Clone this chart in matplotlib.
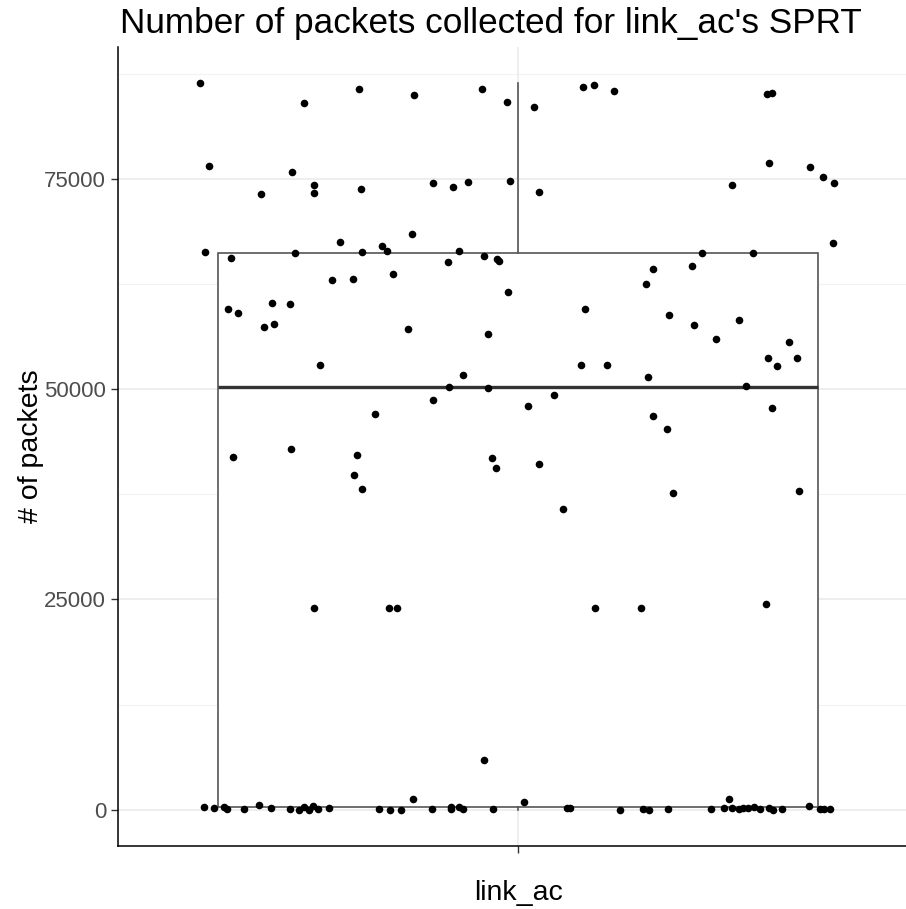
import matplotlib
matplotlib.use("Agg")
import matplotlib.pyplot as plt
import numpy as np

# number of packets collected per SPRT run (one category: link_ac)
packets = [
    86370, 84000, 76550, 75870, 73180, 66320, 65650, 66240, 59590, 59070,
    60230, 60140, 57370, 57730, 42850, 85730, 84990, 74290, 73300, 73780,
    67510, 66360, 67070, 66480, 68430, 63000, 63150, 63710, 57130, 52890,
    47030, 85660, 84110, 74520, 74090, 74650, 74720, 66480, 65170, 65810,
    65500, 65300, 61530, 56540, 51670, 50300, 50190, 48730, 83560, 85970,
    86130, 85460, 73420, 59590, 52850, 52850, 47980, 49330, 74290, 64300,
    62560, 64660, 66200, 58840, 57680, 58280, 55980, 51470, 46790, 45250,
    85120, 85200, 76860, 76470, 75280, 74560, 67360, 66200, 55660, 53760,
    52810, 53690, 50320, 47780,
    41880, 42230, 39820, 38150, 41840, 40610, 41090, 35700, 37640, 37880,
    23970, 23970, 23970, 23970, 23930, 24400, 5860,
    270, 200, 275, 30, 30, 560, 200, 120, 0, 275,
    0, 390, 120, 200, 120, 0, 0, 1310, 120, 275,
    30, 350, 30, 120, 950, 200, 150, 0, 120, 0,
    120, 120, 200, 1270, 200, 120, 200, 200, 275, 80,
    200, 0, 80, 480, 120, 120, 120,
]

# horizontal jitter of each point (category units)
jitter = [
    -0.477, -0.321, -0.463, -0.339, -0.386, -0.469, -0.431, -0.335, -0.435, -0.420,
    -0.369, -0.342, -0.381, -0.366, -0.341, -0.239, -0.156, -0.306, -0.306, -0.236,
    -0.267, -0.234, -0.204, -0.197, -0.159, -0.279, -0.248, -0.188, -0.165, -0.297,
    -0.215, -0.054, -0.016, -0.127, -0.098, -0.075, -0.012, -0.089, -0.105, -0.051,
    -0.032, -0.029, -0.015, -0.045, -0.083, -0.103, -0.045, -0.127, 0.024, 0.098,
    0.114, 0.144, 0.032, 0.100, 0.095, 0.134, 0.015, 0.054, 0.321, 0.203,
    0.192, 0.261, 0.276, 0.226, 0.264, 0.332, 0.297, 0.195, 0.203, 0.223,
    0.374, 0.381, 0.376, 0.438, 0.458, 0.474, 0.473, 0.352, 0.407, 0.375,
    0.389, 0.419, 0.342, 0.381,
    -0.428, -0.242, -0.246, -0.234, -0.039, -0.033, 0.032, 0.068, 0.233, 0.422,
    -0.306, -0.194, -0.181, 0.115, 0.185, 0.372, -0.051,
    -0.471, -0.456, -0.441, -0.437, -0.411, -0.389, -0.370, -0.342, -0.329, -0.321,
    -0.314, -0.308, -0.300, -0.284, -0.209, -0.192, -0.175, -0.158, -0.129, -0.100,
    -0.100, -0.088, -0.083, -0.037, 0.009, 0.074, 0.078, 0.153, 0.188, 0.197,
    0.225, 0.290, 0.309, 0.317, 0.321, 0.332, 0.338, 0.345, 0.354, 0.363,
    0.377, 0.382, 0.396, 0.437, 0.453, 0.459, 0.468,
]

category = "link_ac"
y_ticks = [0, 25000, 50000, 75000]
y_minor = [12500, 37500, 62500, 87500]

plt.rcParams["font.family"] = ["Liberation Sans", "DejaVu Sans"]

fig = plt.figure(figsize=(9.06, 9.09), dpi=100)
ax = fig.add_axes([118 / 906, 63 / 909, 800 / 906, 799 / 909])

# grid like ggplot's theme
for y in y_minor:
    ax.axhline(y, color="#f2f2f2", lw=0.8, zorder=0)
for y in y_ticks:
    ax.axhline(y, color="#ebebeb", lw=1.2, zorder=0)
ax.axvline(1, color="#ebebeb", lw=1.2, zorder=0)

ax.boxplot(
    packets, positions=[1], widths=0.9, whis=1.5, showfliers=False,
    patch_artist=True,
    boxprops=dict(facecolor="white", edgecolor="#555555", linewidth=1.2),
    whiskerprops=dict(color="#555555", linewidth=1.2),
    capprops=dict(linewidth=0),
    medianprops=dict(color="#333333", linewidth=2.4),
    zorder=1,
)

ax.scatter(1 + np.array(jitter), packets, s=30, color="black", linewidths=0, zorder=3)

lo, hi = min(packets), max(packets)
pad = 0.05 * (hi - lo)
ax.set_ylim(lo - pad, hi + pad)
ax.set_xlim(0.4, 1.6)

ax.set_yticks(y_ticks)
ax.set_yticklabels([str(v) for v in y_ticks], fontsize=16, color="#4d4d4d")
ax.set_xticks([1])
ax.set_xticklabels([""])
ax.tick_params(axis="both", length=5, width=1, color="#333333")

for side in ["top", "right"]:
    ax.spines[side].set_visible(False)
for side in ["left", "bottom"]:
    ax.spines[side].set_color("black")
    ax.spines[side].set_linewidth(1.1)

ax.set_xlabel(category, fontsize=20.5, labelpad=16)
ax.set_ylabel("# of packets", fontsize=20.5, labelpad=0)
fig.text(120 / 906, 1 - 23 / 909, "Number of packets collected for link_ac's SPRT",
         fontsize=25.3, ha="left", va="center")

fig.savefig("out.png", dpi=100)
